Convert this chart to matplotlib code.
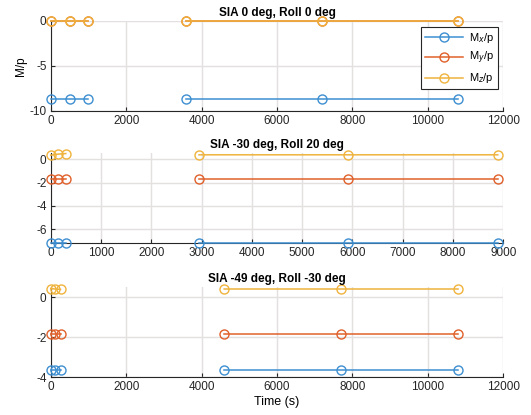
import matplotlib
matplotlib.use("Agg")
import matplotlib.pyplot as plt
import numpy as np

plt.rcParams["font.family"] = ["Liberation Sans", "DejaVu Sans"]
plt.rcParams["axes.unicode_minus"] = False

# panel 1: SIA 0 deg, Roll 0 deg
t1 = [0, 500, 1000, np.nan, 3600, 7200, 10800]
mx1 = [-8.75, -8.75, -8.75, np.nan, -8.75, -8.75, -8.75]
my1 = [0, 0, 0, np.nan, 0, 0, 0]
mz1 = [0, 0, 0, np.nan, 0, 0, 0]

# panel 2: SIA -30 deg, Roll 20 deg
t2 = [0, 150, 300, np.nan, 2950, 5910, 8890]
mx2 = [-7.2, -7.2, -7.2, np.nan, -7.2, -7.2, -7.2]
my2 = [-1.71, -1.71, -1.71, np.nan, -1.71, -1.71, -1.71]
mz2 = [0.34, 0.43, 0.48, np.nan, 0.37, 0.37, 0.37]

# panel 3: SIA -49 deg, Roll -30 deg
t3 = [0, 120, 260, np.nan, 4600, 7700, 10800]
mx3 = [-3.64, -3.64, -3.64, np.nan, -3.64, -3.64, -3.64]
my3 = [-1.84, -1.84, -1.84, np.nan, -1.84, -1.84, -1.84]
mz3 = [0.42, 0.40, 0.38, np.nan, 0.40, 0.40, 0.40]

titles = ["SIA 0 deg, Roll 0 deg", "SIA -30 deg, Roll 20 deg", "SIA -49 deg, Roll -30 deg"]
labels = [r"M$_x$/p", r"M$_y$/p", r"M$_z$/p"]
colors = ["#3d8fd1", "#e0602a", "#efb33c"]

panels = [
    (t1, [mx1, my1, mz1], (0, 12000), (-10, 0), [0, 2000, 4000, 6000, 8000, 10000, 12000], [-10, -5, 0]),
    (t2, [mx2, my2, mz2], (0, 9000), (-7.2, 0.5), list(range(0, 9001, 1000)), [-6, -4, -2, 0]),
    (t3, [mx3, my3, mz3], (0, 12000), (-4, 0.5), [0, 2000, 4000, 6000, 8000, 10000, 12000], [-4, -2, 0]),
]

fig = plt.figure(figsize=(5.31, 4.15), dpi=100)
tops = [20.7, 153.3, 287]
for i, (t, series, xl, yl, xt, yt) in enumerate(panels):
    ax = fig.add_axes([50.7 / 531, 1 - (tops[i] + 90) / 415, 452.6 / 531, 90 / 415])
    for s, c, lab in zip(series, colors, labels):
        ax.plot(t, s, "-o", color=c, mfc="none", mec=c, ms=6.5, lw=1.1, label=lab, clip_on=False, zorder=3)
    ax.set_xlim(xl)
    ax.set_ylim(yl)
    ax.set_xticks(xt)
    ax.set_yticks(yt)
    ax.grid(True, color="#e4e0e0", lw=1.0)
    ax.set_axisbelow(True)
    ax.spines["top"].set_visible(False)
    ax.spines["right"].set_visible(False)
    for sp in ["left", "bottom"]:
        ax.spines[sp].set_color("#262626")
        ax.spines[sp].set_linewidth(0.8)
    ax.tick_params(direction="in", length=3, labelsize=8.5, colors="#262626", pad=3)
    ax.set_title(titles[i], fontsize=8.5, fontweight="bold", pad=3.5)
    if i == 0:
        ax.set_ylabel("M/p", fontsize=8.5, labelpad=2)
        leg = ax.legend(loc="upper right", bbox_to_anchor=(0.99, 0.94), fontsize=8,
                        fancybox=False, edgecolor="#262626", framealpha=1,
                        handlelength=3.4, borderpad=0.35, labelspacing=0.45,
                        handletextpad=0.5, borderaxespad=0.1)
        leg.get_frame().set_linewidth(0.8)
    if i == 2:
        ax.set_xlabel("Time (s)", fontsize=9, labelpad=2)

fig.savefig("out.png", dpi=100)
